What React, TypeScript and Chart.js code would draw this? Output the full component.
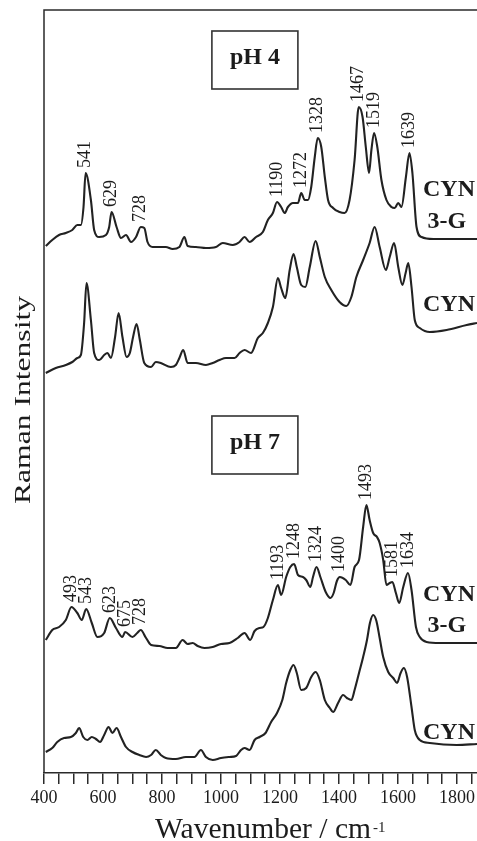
import React, { useEffect, useRef } from "react";
import { Chart, registerables } from "chart.js";

Chart.register(...registerables);

// ---- Data (wavenumber in cm-1, intensity in arbitrary units incl. vertical offset) ----
const ph4Cyn3gWn = [406, 428, 451, 474, 496, 513, 525, 534, 541, 559, 570, 587, 610, 621, 629, 646, 661, 678, 695, 712, 728, 740, 751, 768, 813, 836, 859, 876, 887, 915, 949, 983, 1006, 1040, 1063, 1080, 1097, 1119, 1142, 1159, 1176, 1190, 1204, 1216, 1227, 1244, 1261, 1272, 1284, 1295, 1306, 1318, 1328, 1340, 1352, 1363, 1380, 1402, 1419, 1436, 1453, 1467, 1480, 1491, 1502, 1510, 1519, 1530, 1544, 1561, 1578, 1589, 1601, 1612, 1627, 1639, 1649, 1663, 1680, 1720, 1799, 1868];
const ph4Cyn3gI = [527, 533, 538, 540, 543, 548, 548, 566, 600, 573, 543, 536, 538, 546, 561, 546, 535, 538, 531, 536, 546, 545, 531, 526, 526, 524, 526, 536, 527, 526, 525, 526, 530, 528, 531, 536, 531, 536, 541, 553, 560, 571, 566, 560, 566, 570, 570, 580, 573, 573, 586, 616, 635, 626, 596, 573, 565, 561, 560, 573, 613, 666, 656, 626, 600, 623, 640, 626, 593, 573, 566, 565, 570, 566, 596, 620, 600, 546, 536, 534, 534, 534];

const ph4CynWn = [406, 440, 474, 496, 513, 525, 536, 544, 559, 570, 587, 604, 615, 627, 641, 653, 666, 680, 691, 702, 714, 725, 740, 763, 779, 796, 830, 847, 859, 872, 887, 915, 949, 972, 995, 1017, 1046, 1063, 1080, 1102, 1125, 1142, 1159, 1176, 1193, 1204, 1218, 1233, 1246, 1257, 1272, 1286, 1301, 1321, 1335, 1352, 1374, 1402, 1425, 1442, 1459, 1482, 1504, 1521, 1538, 1559, 1572, 1587, 1601, 1615, 1626, 1635, 1646, 1657, 1674, 1708, 1765, 1833, 1868];
const ph4CynI = [400, 405, 408, 411, 415, 418, 450, 490, 453, 420, 413, 418, 420, 415, 436, 460, 436, 416, 420, 436, 449, 433, 410, 406, 411, 410, 406, 408, 415, 423, 410, 410, 408, 410, 413, 415, 415, 420, 423, 420, 435, 440, 450, 466, 495, 485, 475, 503, 519, 506, 488, 486, 506, 532, 516, 496, 483, 471, 467, 476, 496, 513, 530, 546, 526, 503, 516, 530, 506, 488, 500, 510, 486, 453, 445, 441, 443, 448, 450];

const ph7Cyn3gWn = [406, 428, 451, 474, 493, 513, 528, 543, 562, 581, 604, 623, 644, 666, 675, 700, 716, 728, 746, 763, 791, 819, 847, 870, 887, 904, 921, 944, 972, 1000, 1029, 1057, 1080, 1099, 1114, 1131, 1144, 1159, 1176, 1193, 1204, 1221, 1235, 1248, 1261, 1278, 1289, 1303, 1312, 1324, 1337, 1355, 1371, 1382, 1393, 1403, 1423, 1439, 1453, 1468, 1482, 1493, 1504, 1516, 1529, 1538, 1550, 1561, 1572, 1581, 1593, 1604, 1618, 1634, 1646, 1661, 1674, 1697, 1742, 1810, 1868];
const ph7Cyn3gI = [133, 143, 146, 153, 166, 160, 153, 164, 150, 136, 140, 155, 145, 136, 141, 136, 140, 143, 135, 128, 127, 125, 125, 133, 129, 130, 127, 125, 126, 129, 130, 135, 140, 133, 142, 145, 146, 155, 173, 188, 178, 196, 206, 209, 198, 196, 193, 186, 196, 206, 196, 181, 175, 180, 192, 196, 193, 188, 206, 213, 246, 268, 253, 240, 236, 230, 213, 188, 190, 191, 180, 170, 186, 200, 183, 146, 136, 131, 130, 130, 130];

const ph7CynWn = [406, 428, 445, 468, 491, 508, 519, 533, 547, 562, 576, 590, 604, 619, 632, 646, 661, 678, 700, 723, 746, 763, 779, 796, 813, 847, 881, 910, 932, 949, 972, 1000, 1029, 1051, 1068, 1080, 1097, 1114, 1131, 1151, 1170, 1190, 1208, 1221, 1235, 1246, 1257, 1272, 1289, 1306, 1321, 1335, 1352, 1369, 1380, 1397, 1414, 1427, 1442, 1453, 1468, 1482, 1495, 1505, 1516, 1527, 1538, 1550, 1567, 1584, 1597, 1609, 1620, 1631, 1646, 1657, 1674, 1708, 1799, 1868];
const ph7CynI = [21, 25, 31, 35, 36, 40, 45, 36, 33, 36, 34, 31, 38, 46, 40, 45, 36, 26, 21, 18, 16, 18, 23, 18, 15, 14, 16, 16, 23, 16, 13, 15, 16, 17, 23, 25, 23, 33, 36, 40, 51, 60, 73, 90, 103, 108, 100, 83, 85, 96, 101, 93, 73, 65, 61, 70, 78, 75, 73, 83, 100, 116, 133, 150, 158, 152, 135, 116, 101, 95, 90, 100, 105, 96, 66, 43, 33, 30, 28, 29];

const ph4Cyn3gPeaks = [541, 629, 728, 1190, 1272, 1328, 1467, 1519, 1639];
const ph7Cyn3gPeaks = [493, 543, 623, 675, 728, 1193, 1248, 1324, 1400, 1493, 1581, 1634];

const xMin = 400;
const xMax = 1868;
const xStep = 50;
const xLabelStep = 200;

const SERIF = "'Liberation Serif', 'DejaVu Serif', serif";
const INK = "#1c1c1c";

function toPoints(wn: number[], val: number[]) {
  return wn.map((x, i) => ({ x, y: val[i] }));
}

function peakTop(wn: number[], val: number[], p: number) {
  let m = -Infinity;
  wn.forEach((x, i) => {
    if (Math.abs(x - p) <= 12 && val[i] > m) m = val[i];
  });
  return m;
}

function drawStretched(ctx: CanvasRenderingContext2D, text: string, x: number, y: number, width: number) {
  const w = ctx.measureText(text).width;
  ctx.save();
  ctx.translate(x, y);
  ctx.scale(width / w, 1);
  ctx.fillText(text, 0, 0);
  ctx.restore();
}

const decorPlugin = {
  id: "decor",
  afterDraw(chart: any) {
    const ctx: CanvasRenderingContext2D = chart.ctx;
    const { left, right, top, bottom } = chart.chartArea;
    const xs = chart.scales.x;
    const ys = chart.scales.y;
    ctx.save();

    // frame: top and left lines
    ctx.strokeStyle = "#2a2a2a";
    ctx.lineWidth = 1.5;
    ctx.beginPath();
    ctx.moveTo(left, bottom);
    ctx.lineTo(left, top);
    ctx.lineTo(right, top);
    ctx.stroke();

    // peak labels (rotated)
    ctx.fillStyle = INK;
    ctx.font = `18px ${SERIF}`;
    ctx.textAlign = "left";
    ctx.textBaseline = "middle";
    const drawPeaks = (peaks: number[], wn: number[], val: number[]) => {
      peaks.forEach((p) => {
        const px = xs.getPixelForValue(p);
        const py = ys.getPixelForValue(peakTop(wn, val, p)) - 5;
        ctx.save();
        ctx.translate(px, py);
        ctx.rotate(-Math.PI / 2);
        ctx.fillText(String(p), 0, 0);
        ctx.restore();
      });
    };
    drawPeaks(ph4Cyn3gPeaks, ph4Cyn3gWn, ph4Cyn3gI);
    drawPeaks(ph7Cyn3gPeaks, ph7Cyn3gWn, ph7Cyn3gI);

    // pH boxes
    const boxes = [
      { text: "pH 4", x: 1115, y: 713 },
      { text: "pH 7", x: 1115, y: 328 },
    ];
    ctx.font = `bold 24px ${SERIF}`;
    ctx.textAlign = "center";
    ctx.textBaseline = "alphabetic";
    boxes.forEach((b) => {
      const cx = xs.getPixelForValue(b.x);
      const cy = ys.getPixelForValue(b.y);
      ctx.strokeStyle = "#333";
      ctx.lineWidth = 1.6;
      ctx.strokeRect(cx - 43, cy - 29, 86, 58);
      ctx.fillText(b.text, cx, cy + 4);
    });

    // sample labels at right
    const sampleLabels = [
      { text: "CYN", x: 1685, y: 577, align: "left" },
      { text: "3-G", x: 1766, y: 545, align: "center" },
      { text: "CYN", x: 1685, y: 462, align: "left" },
      { text: "CYN", x: 1685, y: 172, align: "left" },
      { text: "3-G", x: 1766, y: 141, align: "center" },
      { text: "CYN", x: 1685, y: 34, align: "left" },
    ];
    ctx.font = `bold 24px ${SERIF}`;
    sampleLabels.forEach((l) => {
      ctx.textAlign = l.align as CanvasTextAlign;
      ctx.fillText(l.text, xs.getPixelForValue(l.x), ys.getPixelForValue(l.y));
    });

    // axis titles
    ctx.fillStyle = INK;
    ctx.textAlign = "left";
    ctx.textBaseline = "alphabetic";
    ctx.font = `29px ${SERIF}`;
    drawStretched(ctx, "Wavenumber / cm", 155, 838, 216);
    ctx.font = `15px ${SERIF}`;
    ctx.fillText("-1", 373, 832);

    ctx.save();
    ctx.translate(30, 400);
    ctx.rotate(-Math.PI / 2);
    ctx.font = `24px ${SERIF}`;
    ctx.textAlign = "left";
    const t = "Raman Intensity";
    const w = ctx.measureText(t).width;
    const target = 208;
    ctx.scale(target / w, 1);
    ctx.fillText(t, -w / 2, 0);
    ctx.restore();

    ctx.restore();
  },
};

export default function App() {
  const canvasRef = useRef<HTMLCanvasElement | null>(null);

  useEffect(() => {
    if (!canvasRef.current) return;
    const lineStyle = {
      borderColor: "#222",
      borderWidth: 2.1,
      pointRadius: 0,
      fill: false,
      cubicInterpolationMode: "monotone" as const,
    };
    const chart = new Chart(canvasRef.current, {
      type: "line",
      data: {
        datasets: [
          { label: "pH 4 CYN 3-G", data: toPoints(ph4Cyn3gWn, ph4Cyn3gI), ...lineStyle },
          { label: "pH 4 CYN", data: toPoints(ph4CynWn, ph4CynI), ...lineStyle },
          { label: "pH 7 CYN 3-G", data: toPoints(ph7Cyn3gWn, ph7Cyn3gI), ...lineStyle },
          { label: "pH 7 CYN", data: toPoints(ph7CynWn, ph7CynI), ...lineStyle },
        ],
      },
      options: {
        animation: false,
        responsive: false,
        devicePixelRatio: 1,
        layout: { padding: { left: 44, top: 10, right: 0, bottom: 0 } },
        plugins: {
          legend: { display: false },
          tooltip: { enabled: false },
        },
        scales: {
          x: {
            type: "linear",
            min: xMin,
            max: xMax,
            afterFit: (scale: any) => {
              scale.height = 68;
            },
            border: { display: true, color: "#2a2a2a", width: 1.5 },
            grid: {
              drawOnChartArea: false,
              drawTicks: true,
              tickLength: 11,
              color: "#2a2a2a",
              lineWidth: 1.5,
            },
            ticks: {
              stepSize: xStep,
              includeBounds: false,
              autoSkip: false,
              maxRotation: 0,
              padding: 3,
              color: INK,
              font: { family: SERIF, size: 18 },
              callback: (v: any) => (Number(v) % xLabelStep === 0 ? String(v) : ""),
            },
          },
          y: {
            type: "linear",
            display: false,
            min: 0,
            max: 763,
          },
        },
      },
      plugins: [decorPlugin],
    });
    return () => chart.destroy();
  }, []);

  return (
    <div style={{ position: "fixed", left: 0, top: 0, width: 477, height: 841, background: "#fff" }}>
      <canvas ref={canvasRef} width={477} height={841} style={{ display: "block" }} />
    </div>
  );
}
